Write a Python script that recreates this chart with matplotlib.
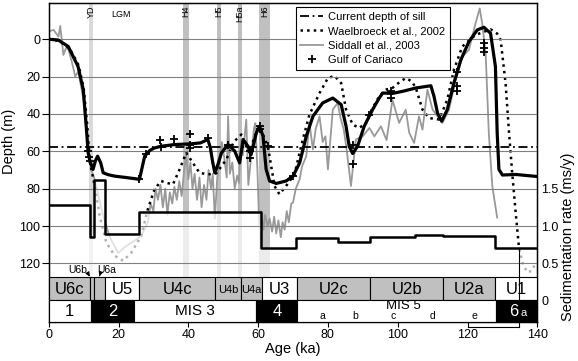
import matplotlib
matplotlib.use('Agg')
import matplotlib.pyplot as plt
from matplotlib.patches import Rectangle

plt.rcParams['font.family'] = ['Liberation Sans', 'DejaVu Sans']

# reconstructed sea level (thick black line)
recon_age = [0, 2.7, 5.6, 8.4, 9.9, 10.8, 11.3, 11.8, 12.7, 13.4, 14.0, 14.9, 15.6, 17.0, 18.9,
             22.0, 26.0, 27.5, 29.0, 30.3, 32.2, 36.0, 40.8, 43.5, 45.6, 46.3, 47.0, 47.6, 48.5,
             49.5, 51.4, 53.3, 54.7, 55.7, 57.1, 58.0, 59.5, 60.4, 61.4, 62.3, 63.3, 65.2, 68.0,
             70.0, 71.9, 73.8, 75.7, 78.5, 81.4, 83.8, 85.2, 86.1, 87.1, 88.5, 90.4, 92.8, 94.7,
             95.7, 98.5, 101.4, 105.2, 109.5, 110.4, 111.4, 112.6, 114.2, 116.1, 118.1, 120.4,
             122.8, 124.7, 126.6, 128.0, 128.5, 129.0, 130.0, 133.8, 140.0]
recon_depth = [0, 0.4, 3.9, 14.6, 27, 48, 60.8, 65.3, 69.7, 65, 62.6, 66.2, 71.5, 72.5, 73.3,
               74, 75, 62.6, 59.5, 58.2, 57.3, 56.4, 56, 55.5, 53.7, 58, 66, 71.5, 67,
               60.8, 56.4, 59.9, 66.2, 53.7, 57.3, 61.7, 50.1, 46.6, 51.9, 69.7, 75.9, 77.2, 75.9,
               73.3, 66.2, 51.9, 41.3, 34.1, 31.5, 35, 46.6, 57.3, 61.2, 57.3, 46.6, 37.7, 31.5,
               28.8, 29.0, 27.9, 26.1, 24.9, 30.6, 39.5, 43.9, 37.7, 23.5, 11, 1.3,
               -5, -6.4, -3.2, 14.6, 50.1, 69.7, 72.7, 72.4, 73.5]

# Waelbroeck et al., 2002
wael_age = [0, 3, 6, 8.6, 10, 11, 11.8, 13.2, 14.6, 16.5, 18.9, 21.3, 23.7, 26.5, 28.4, 30.3,
            32.2, 34.0, 35.6, 37.5, 39.4, 41.3, 43.2, 45.6, 48.0, 50.9, 53.0, 55.2, 56.6, 57.6,
            59.0, 60.4, 62.8, 64.7, 66.1, 68.0, 70.4, 72.8, 74.7, 77.6, 80.0, 81.9, 83.8, 85.2,
            87.1, 89.0, 90.9, 92.8, 94.7, 96.5, 98.5, 100.5, 102.3, 104.0, 105.2, 107.1, 109.0,
            111.9, 114.2, 116.1, 118.5, 122.3, 126.6, 128.5, 129.5, 130.9, 131.9, 132.8, 133.8,
            134.7, 135.7, 137.1, 138.5, 139.5]
wael_depth = [0, 1, 5, 14, 26, 45, 66, 78.6, 94.6, 108.8, 115.9, 118.6, 114.2, 105.3, 91, 80.4,
              75.9, 77, 77.7, 69.7, 60.8, 66.2, 71.5, 72.4, 71.8, 64.4, 55, 51, 57.3, 60.8,
              52, 46.6, 57.3, 78.6, 83, 78.6, 72.4, 53.7, 40.4, 28.8, 20.8, 19.6, 23.5, 37.7,
              45.7, 47.5, 44.8, 36.8, 30.6, 27, 26.1, 23, 20.8, 22.5, 26.1, 37.7, 42.2,
              43, 32.4, 16.4, 3.9, -2.3, -5.3, -3, 0.4, 23.5, 50.1, 71.5, 92.8,
              110.6, 119.5, 124.8, 124, 119.5]

# Siddall et al., 2003
sidd_age = [0.2, 1.4, 2.8, 3.3, 4.2, 5.0, 5.7, 6.6, 7.6, 8.5, 9.0, 10.0, 10.8, 11.5, 12.2, 13.0,
            14.0, 15.6, 17.5, 19.9, 22.0, 24.5, 26.5, 28.4, 29.2, 30.0, 30.6, 31.3, 32.0, 32.7,
            33.4, 34.0, 34.7, 35.4, 36.0, 36.7, 37.4, 38.1, 38.8, 39.4, 40.0, 40.6, 41.2, 41.8,
            42.5, 43.2, 43.8, 44.5, 45.2, 45.8, 46.5, 47.0, 47.6, 48.3, 49.0, 49.6, 50.2, 51.0,
            51.4, 51.9, 52.6, 53.3, 54.0, 54.5, 55.0, 55.6, 56.6, 57.2, 58.0, 58.8, 59.2, 59.8,
            60.3, 60.8, 61.5, 62.0, 62.7, 63.3, 64.0, 64.6, 65.2, 65.8, 66.5, 67.0, 67.6, 68.2,
            68.8, 69.5, 70.0, 70.8, 71.9, 72.6, 73.8, 74.7, 75.7, 76.5, 77.6, 78.5, 79.3, 80.0,
            81.4, 82.8, 83.6, 84.5, 85.3, 86.6, 88.0, 90.0, 91.9, 93.3, 95.2, 96.8, 98.5, 100.4,
            102.3, 103.3, 104.7, 106.1, 107.1, 108.5, 110.0, 111.4, 112.8, 114.7, 116.6, 118.5,
            120.4, 122.3, 123.5, 124.2, 125.2, 126.1, 127.1, 128.5]
sidd_depth = [-4.3, -5, -1.4, -7.1, 8.4, 4.5, 5.7, 12, 19.9, 17.3, 22.6, 33, 48, 62, 70, 74,
              82, 94.6, 106, 114.5, 111, 108, 105.3, 98, 88, 92, 80, 86, 78, 90,
              80, 94, 82, 88, 79, 86, 76, 84, 70, 62, 75, 66, 80, 72,
              86, 74, 90, 78, 86, 70, 80, 72, 96, 74, 64, 55, 62, 74,
              41.3, 72, 66, 80, 73, 77, 54, 62, 43, 78, 63, 48, 45, 70,
              99, 92, 102, 94, 100, 96, 103, 95, 104, 97, 106, 98, 102, 92,
              98, 88, 87.5, 80, 75, 68, 62.6, 44.8, 59, 48, 41.3, 55, 52, 69.7,
              37.7, 34.1, 42, 48, 58, 78.6, 53.7, 51.9, 47.5, 52, 46.6, 54, 32.4, 44.8,
              37.7, 50.1, 55.5, 41.3, 48.4, 27, 37.7, 41.3, 44.8, 37.7, 21.7, 9.3,
              5.7, -8.5, -16.5, -8.5, 7.5, 50.1, 78.6, 95.5]

# Gulf of Cariaco
cariaco_age = [11.2, 11.5, 11.8, 26, 28, 32, 32.1, 36, 40.6, 40.6, 40.6, 45.6, 51.4, 57.6, 57.6,
               60.4, 60.4, 62.8, 70, 87.1, 87.1, 91.9, 98.1, 98.1, 117.1, 117.1, 117.1,
               124.7, 124.7, 124.7]
cariaco_depth = [60, 63, 65, 75, 61.7, 54, 57.6, 53.3, 51, 56.4, 58.2, 52.8, 56.4, 60, 63.5,
                 46.6, 48.3, 57.3, 73.3, 56.4, 67, 40.4, 27.9, 31.5, 17.3, 25.3, 27.9,
                 2.2, 4.8, 6.6]

sill_depth = 57.5

# sedimentation rate (ms/y), step function
rate_edges = [0, 11.9, 13.0, 16.1, 25.9, 60.9, 70.9, 82.8, 92.1, 105.0, 113.1, 127.9, 140]
rate_vals = [1.28, 0.85, 1.61, 0.89, 1.19, 0.70, 0.84, 0.78, 0.85, 0.88, 0.86, 0.71]

# stadial bands
band_start = [11.4, 38.4, 48.2, 54.2, 60.3]
band_end = [12.8, 40.2, 49.4, 55.5, 63.5]
band_names = ['YD', 'H4', 'H5', 'H5a', 'H6']

# seismic units
unit_edges = [0, 11.9, 13.0, 16.0, 26.0, 47.7, 55.0, 61.2, 71.1, 92.1, 113.0, 128.0, 140]
unit_names = ['U6c', 'U6b', 'U6a', 'U5', 'U4c', 'U4b', 'U4a', 'U3', 'U2c', 'U2b', 'U2a', 'U1']
unit_shaded = [1, 1, 1, 0, 1, 1, 1, 0, 1, 1, 1, 0]

# marine isotope stages
mis_edges = [0, 12.0, 24.5, 59.5, 71.2, 128.2, 140]
mis_names = ['1', '2', 'MIS 3', '4', 'MIS 5', '6']
mis_dark = [0, 1, 0, 1, 0, 1]
sub_names = ['a', 'b', 'c', 'd', 'e']
sub_age = [78.3, 87.8, 98.6, 110.0, 122.0]

fig = plt.figure(figsize=(5.78, 3.61), dpi=100)
ax = fig.add_axes([0.0843, 0.108, 0.8453, 0.8837])
ax2 = ax.twinx()
ax.set_xlim(0, 140)
ax.set_ylim(151.4, -19.4)
ax2.set_ylim(-0.285, 3.985)

for a0, a1, nm in zip(band_start, band_end, band_names):
    col = '#dadada' if nm == 'YD' else '#c0c0c0'
    ax.axvspan(a0, a1, color=col, lw=0, zorder=1)
    ax.text((a0 + a1) / 2, -18.0, nm, rotation=90, ha='center', va='top', fontsize=6.5)
ax.text(20.7, -13.2, 'LGM', ha='center', va='center', fontsize=6.5)

sid, = ax.plot(sidd_age, sidd_depth, color='#999999', lw=1.3, zorder=2, label='Siddall et al., 2003')
wae, = ax.plot(wael_age, wael_depth, color='k', lw=1.8, ls=':', zorder=2.2,
               label='Waelbroeck et al., 2002')

# area under sedimentation rate washes out what lies below
ax.fill_between(rate_edges, rate_vals + rate_vals[-1:], 0, step='post', color='white',
                alpha=0.7, lw=0, zorder=2.5, transform=ax2.transData)

for d in range(0, 121, 20):
    ax.axhline(d, color='#808080', lw=0.8, zorder=2.6)
sil = ax.axhline(sill_depth, color='k', lw=1.3, ls=(0, (5, 2, 1, 2)), zorder=2.7,
                 label='Current depth of sill')
ax.plot(recon_age, recon_depth, color='k', lw=2.3, zorder=3, solid_joinstyle='round')
car, = ax.plot(cariaco_age, cariaco_depth, ls='none', marker='+', ms=6, mew=1.3, color='k',
               zorder=4, label='Gulf of Cariaco')

ax2.step(rate_edges, rate_vals + rate_vals[-1:], where='post', color='k', lw=1.8)

# unit and stage rows
u_top, u_bot, m_bot = 127.3, 139.7, 151.4
for i, nm in enumerate(unit_names):
    a0, a1 = unit_edges[i], unit_edges[i + 1]
    ax.add_patch(Rectangle((a0, u_top), a1 - a0, u_bot - u_top, fc='#c0c0c0' if unit_shaded[i] else 'white',
                           ec='k', lw=0.8, zorder=5))
    if nm in ('U6b', 'U6a'):
        continue
    fs = 8 if nm in ('U4b', 'U4a') else 12
    ax.text((a0 + a1) / 2, 134.0, nm, ha='center', va='center', fontsize=fs, zorder=6)
ax.text(8.4, 123.3, 'U6b', ha='center', va='center', fontsize=7.5, zorder=6)
ax.text(16.7, 123.3, 'U6a', ha='center', va='center', fontsize=7.5, zorder=6)
ax.annotate('', xy=(12.2, 128.3), xytext=(11.1, 125.0),
            arrowprops=dict(arrowstyle='-|>', lw=0.8, color='k', mutation_scale=6), zorder=6)
ax.annotate('', xy=(14.3, 128.3), xytext=(14.8, 125.3),
            arrowprops=dict(arrowstyle='-|>', lw=0.8, color='k', mutation_scale=6), zorder=6)

for i, nm in enumerate(mis_names):
    a0, a1 = mis_edges[i], mis_edges[i + 1]
    dark = mis_dark[i]
    ax.add_patch(Rectangle((a0, u_bot), a1 - a0, m_bot - u_bot, fc='k' if dark else 'white',
                           ec='k', lw=0.8, zorder=5))
    tc = 'white' if dark else 'k'
    if nm == 'MIS 5':
        ax.text(101.6, 142.6, nm, ha='center', va='center', fontsize=9.5, zorder=6)
    elif nm == '6':
        ax.text(133.3, 145.6, nm, ha='center', va='center', fontsize=12, color=tc, zorder=6)
        ax.text(136.2, 146.6, 'a', ha='center', va='center', fontsize=8, color=tc, zorder=6)
    else:
        ax.text((a0 + a1) / 2, 145.6, nm, ha='center', va='center',
                fontsize=11 if len(nm) > 1 else 12, color=tc, zorder=6)
for nm, a in zip(sub_names, sub_age):
    ax.text(a, 148.3, nm, ha='center', va='center', fontsize=7.5, zorder=6)

# bracket under stage 6a
ax.plot([134.8, 134.8], [111.6, 154.3], color='k', lw=0.8, zorder=6, clip_on=False)
ax.plot([120, 134.8], [154.3, 154.3], color='k', lw=0.8, zorder=6, clip_on=False)

ax.set_yticks(range(0, 121, 20))
ax.set_xticks(range(0, 141, 20))
ax.tick_params(axis='y', direction='out', length=5, width=0.8, labelsize=9, pad=1)
ax.tick_params(axis='x', direction='out', length=3.6, width=0.8, labelsize=9, pad=1.5)
ax2.set_yticks([0, 0.5, 1.0, 1.5])
ax2.set_yticklabels(['0', '0.5', '1.0', '1.5'])
ax2.tick_params(axis='y', direction='in', length=0, labelsize=9, pad=3)

ax.set_xlabel('Age (ka)', fontsize=10.5, labelpad=1)
ax.set_ylabel('Depth (m)', fontsize=10.5)
ax.yaxis.set_label_coords(-0.067, 0.567)
ax2.set_ylabel('Sedimentation rate (ms/y)', fontsize=10.5)
ax2.yaxis.set_label_coords(1.0485, 0.266)

leg = ax.legend(handles=[sil, wae, sid, car], loc='upper left', bbox_to_anchor=(0.506, 0.9865),
                borderaxespad=0, fontsize=8, fancybox=False, edgecolor='k', framealpha=1,
                handlelength=2.0, handletextpad=0.5, labelspacing=0.4, borderpad=0.4)
leg.get_frame().set_linewidth(0.8)
leg.set_zorder(10)

for sp in ax.spines.values():
    sp.set_linewidth(1.0)

fig.savefig('out.png', dpi=100)
